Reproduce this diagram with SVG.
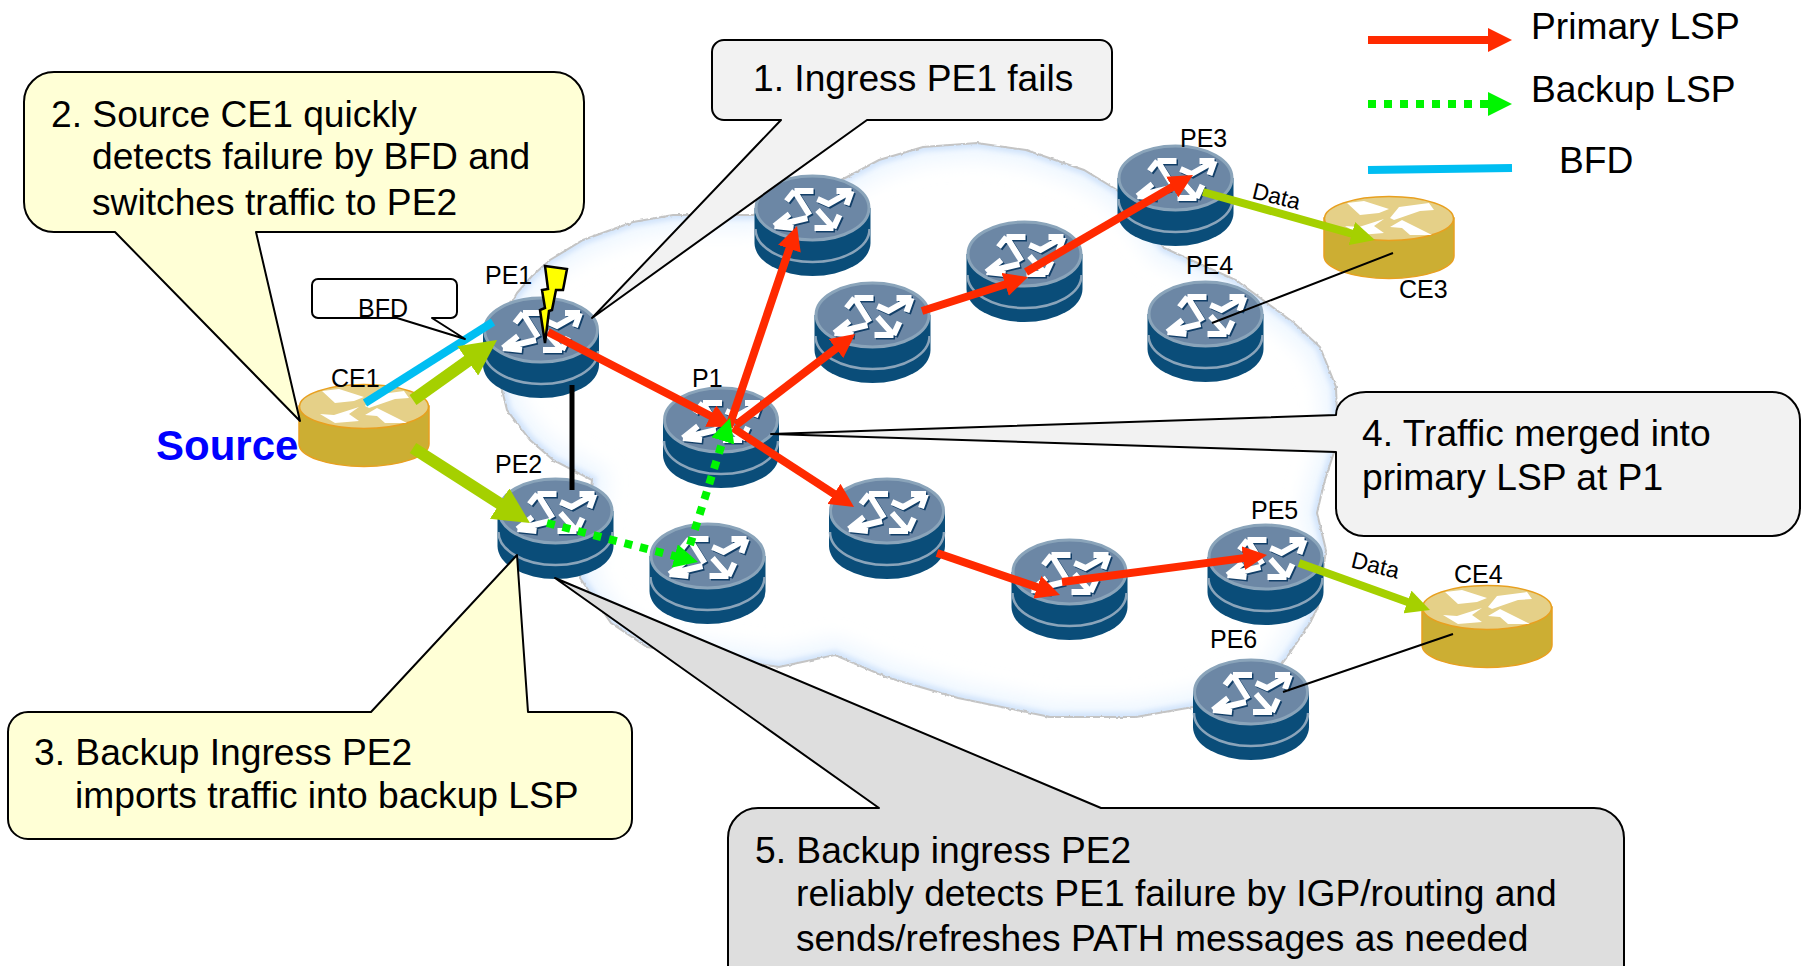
<svg xmlns="http://www.w3.org/2000/svg" width="1807" height="966" viewBox="0 0 1807 966">
<style>
text{font-family:"Liberation Sans",Arial,sans-serif;fill:#000}
.big{font-size:37.2px}
.lab{font-size:25px}
.co{stroke:#000;stroke-width:2;stroke-linejoin:round}
.y{fill:#ffffd6}.g{fill:#f2f2f2}.d{fill:#dedede}
.red{stroke:#ff2a00;stroke-width:8;fill:none;marker-end:url(#mr)}
.lime{stroke:#a5d000;stroke-width:12;fill:none;marker-end:url(#ml)}
.lime2{stroke:#a5d000;stroke-width:8;fill:none;marker-end:url(#ml)}
.grn{stroke:#00f500;stroke-width:8;stroke-dasharray:8 8;fill:none;marker-end:url(#mg)}
.blu{stroke:#00bef2;stroke-width:8;fill:none}
</style>
<defs>
<marker id="mr" viewBox="0 0 3 3" refX="1.5" refY="1.5" markerWidth="3" markerHeight="3" orient="auto"><path d="M0 0L3 1.5L0 3z" fill="#ff2a00"/></marker>
<marker id="ml" viewBox="0 0 3 3" refX="1.5" refY="1.5" markerWidth="3" markerHeight="3" orient="auto"><path d="M0 0L3 1.5L0 3z" fill="#a5d000"/></marker>
<marker id="mg" viewBox="0 0 3 3" refX="1.5" refY="1.5" markerWidth="3" markerHeight="3" orient="auto"><path d="M0 0L3 1.5L0 3z" fill="#00f500"/></marker>
<path id="cloud" d="M517 293L532 276L550 260L583 240L633 222L673 215L753 215L800 200L847 177L879 160L923 147L977 143L1026 150L1084 170L1117 190L1140 215L1164 248L1191 260L1236 280L1294 323L1320 347L1336 387L1338 440L1325 480L1320 500L1317 513L1326 550L1318 607L1310 623L1287 657L1270 680L1193 707L1136 717L1050 717L958 698L886 677L835 655L779 667L730 660L647 647L611 623L580 578L592 480L553 460L530 440L507 410L502 390L490 340z"/>
<clipPath id="cc"><use href="#cloud"/></clipPath>
<filter id="bl" x="-5%" y="-5%" width="110%" height="110%"><feGaussianBlur stdDeviation="2.500"/></filter>
<filter id="bl2" x="-5%" y="-5%" width="110%" height="110%"><feGaussianBlur stdDeviation="10"/></filter>
<filter id="jag" x="-2%" y="-2%" width="104%" height="104%"><feTurbulence type="fractalNoise" baseFrequency="0.25" numOctaves="1" seed="3"/><feDisplacementMap in="SourceGraphic" scale="3" xChannelSelector="R" yChannelSelector="G"/></filter>
<g id="arr"><path d="M-18 -17L-3 7M-18 -17H1M-18 -17L-26 -7M-38 18L-5 10M-38 18L-23 6M-38 18L-19 20M21 20L5 2M21 20H2M21 20L27 7M39 -17L16 -4L5 -9M39 -17H24M39 -17L34 -3" fill="none" stroke-width="6"/></g>
<g id="router">
<path d="M-58 33V68A58 33 0 0 0 58 68V33z" fill="#0a4d79"/>
<path d="M-57 54A57 33 0 0 0 57 54" fill="none" stroke="#8aa4ba" stroke-width="2.500"/>
<ellipse cy="33" rx="56.500" ry="32" fill="#6c87a5" stroke="#8aa4ba" stroke-width="3"/>
<use href="#arr" y="34.500" x="1.500" stroke="#123f68"/>
<use href="#arr" y="33" stroke="#fff"/>
</g>
<g id="ce">
<path d="M-65 22V60A65 22.500 0 0 0 65 60V22z" fill="#ccae33" stroke="#e8a020" stroke-width="1.500"/>
<ellipse cy="22.500" rx="64.500" ry="22" fill="#e5d088" stroke="#e8a020" stroke-width="1.500"/>
<path transform="translate(0 22)" d="M10 -11L40 -15L45 -8L31 -7L5 2L1 0zM-42 -15L-25 -17L0 -9L-10 -5L-29 -3zM-44 8L-30 9L-5 1L-15 8L-5 15L-29 17zM1 9L13 2L43 17L21 17L13 10z" fill="#fff"/>
</g>
</defs>
<rect width="1807" height="966" fill="#fff"/>
<g id="network-cloud">
<use href="#cloud" fill="#fff"/>
<g clip-path="url(#cc)"><use href="#cloud" fill="none" stroke="#edf6ff" stroke-width="30" filter="url(#bl2)"/><use href="#cloud" fill="none" stroke="#d2e4fb" stroke-width="9" filter="url(#bl)"/></g>
<use href="#cloud" fill="none" stroke="#c4c4c4" stroke-width="2" filter="url(#jag)"/>
</g>
<g id="node-pe1"><use href="#router" x="541" y="297"/><text class="lab" x="485" y="284">PE1</text></g>
<g id="node-pe2"><use href="#router" x="555.500" y="478"/><text class="lab" x="495" y="473">PE2</text></g>
<g id="node-p1"><use href="#router" x="721" y="387"/><text class="lab" x="692" y="387">P1</text></g>
<g id="node-r-backup"><use href="#router" x="707.500" y="523"/></g>
<g id="node-r-top"><use href="#router" x="812.500" y="175"/></g>
<g id="node-r2"><use href="#router" x="872.500" y="282"/></g>
<g id="node-r3"><use href="#router" x="1024.500" y="221"/></g>
<g id="node-pe3"><use href="#router" x="1175.500" y="145"/><text class="lab" x="1180" y="147">PE3</text></g>
<g id="node-pe4"><use href="#router" x="1205.500" y="281"/><text class="lab" x="1186" y="274">PE4</text></g>
<g id="node-r4"><use href="#router" x="887" y="478"/></g>
<g id="node-r5"><use href="#router" x="1069.500" y="539"/></g>
<g id="node-pe5"><use href="#router" x="1265.500" y="524"/><text class="lab" x="1251" y="519">PE5</text></g>
<g id="node-pe6"><use href="#router" x="1251" y="659"/><text class="lab" x="1210" y="648">PE6</text></g>
<g id="node-ce1"><use href="#ce" x="364" y="384"/><text class="lab" x="331" y="387">CE1</text><text x="156" y="460" font-size="42" font-weight="bold" style="fill:#0000ff">Source</text></g>
<g id="node-ce3"><use href="#ce" x="1389" y="196"/><text class="lab" x="1399" y="298">CE3</text></g>
<g id="node-ce4"><use href="#ce" x="1487" y="585"/><text class="lab" x="1454" y="583">CE4</text></g>
<g id="connectors">
<path class="blu" d="M365 403L493 322"/>
<path class="lime" d="M413 400L482.400 350.500"/>
<path class="lime" d="M413 448L514.800 513.300"/>
<path d="M572 385V490" stroke="#000" stroke-width="5"/>
<path class="red" d="M548 332L721.300 421.500"/>
<path class="red" d="M729 427L793.200 237.400"/>
<path class="red" d="M736 425L845.500 341.300"/>
<path class="red" d="M922 311L1016.600 280.700"/>
<path class="red" d="M1026 272L1182.600 181"/>
<path class="red" d="M733 428L844 500.400"/>
<path class="red" d="M937 553L1048.600 591.100"/>
<path class="red" d="M1062 582L1255.100 556.600"/>
<path class="lime2" d="M1203 192L1363.400 236.800"/>
<path class="lime2" d="M1299 563L1418.700 606"/>
<path d="M1212 323L1393 253M1283 692L1453 634" stroke="#000" stroke-width="2" fill="none"/>
<path class="grn" d="M547 523L686.400 559"/>
<path class="grn" d="M690 545L726.400 429.400"/>
</g>
<g id="failure-bolt"><path d="M545 266L567 269L563 290L556 290L552 310L549 311L545 343L540 310L545 308L542 290L548 289z" fill="#ffff00" stroke="#000" stroke-width="2.500"/></g>
<g id="callout-bfd"><path class="co" fill="#fff" d="M318 279H451A6 6 0 0 1 457 285V312A6 6 0 0 1 451 318H432L465 339L397 318H318A6 6 0 0 1 312 312V285A6 6 0 0 1 318 279z"/><text x="358" y="317" font-size="25">BFD</text></g>
<g id="callout-1"><path class="co g" d="M724 40H1100A12 12 0 0 1 1112 52V108A12 12 0 0 1 1100 120H867L592 318L781 120H724A12 12 0 0 1 712 108V52A12 12 0 0 1 724 40z"/><text class="big" x="753" y="91">1. Ingress PE1 fails</text></g>
<g id="callout-2"><path class="co y" d="M54 72H554A30 30 0 0 1 584 102V202A30 30 0 0 1 554 232H256L300 421L115 232H54A30 30 0 0 1 24 202V102A30 30 0 0 1 54 72z"/><text class="big" x="51" y="127">2. Source CE1 quickly</text><text class="big" x="92" y="169">detects failure by BFD and</text><text class="big" x="92" y="215">switches traffic to PE2</text></g>
<g id="callout-3"><path class="co y" d="M28 712H371L517 555L528 712H612A20 20 0 0 1 632 732V819A20 20 0 0 1 612 839H28A20 20 0 0 1 8 819V732A20 20 0 0 1 28 712z"/><text class="big" x="34" y="765">3. Backup Ingress PE2</text><text class="big" x="75" y="808">imports traffic into backup LSP</text></g>
<g id="callout-4"><path class="co g" d="M1366 392H1772A28 28 0 0 1 1800 420V508A28 28 0 0 1 1772 536H1364A28 28 0 0 1 1336 508V452L771 434L1336 415A30 23 0 0 1 1366 392z"/><text class="big" x="1362" y="446">4. Traffic merged into</text><text class="big" x="1362" y="490">primary LSP at P1</text></g>
<g id="callout-5"><path class="co d" d="M758 808H879L555 578L1101 808H1594A30 30 0 0 1 1624 838V1000H728V838A30 30 0 0 1 758 808z"/><text class="big" x="755" y="863">5. Backup ingress PE2</text><text class="big" x="796" y="906">reliably detects PE1 failure by IGP/routing and</text><text class="big" x="796" y="951">sends/refreshes PATH messages as needed</text></g>
<g id="legend">
<path class="red" d="M1368 40H1500"/>
<path class="grn" d="M1368 104H1500"/>
<path class="blu" d="M1368 170L1512 168"/>
<text class="big" x="1531" y="39">Primary LSP</text>
<text class="big" x="1531" y="102">Backup LSP</text>
<text class="big" x="1559" y="173">BFD</text>
</g>
<text x="1251" y="198" font-size="23" transform="rotate(14 1251 198)">Data</text>
<text x="1350" y="567" font-size="23" transform="rotate(14 1350 567)">Data</text>
</svg>
